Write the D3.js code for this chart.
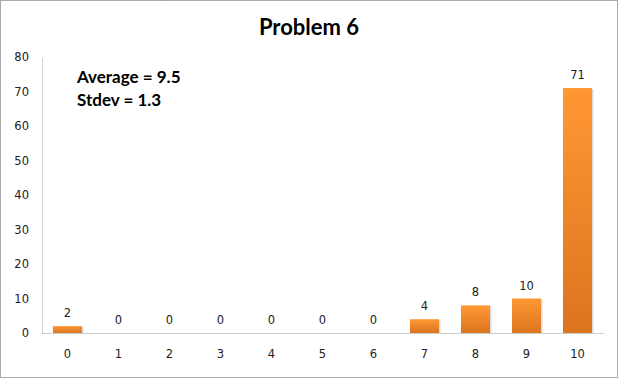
<!DOCTYPE html>
<html>
<head>
<meta charset="utf-8">
<script src="https://cdn.jsdelivr.net/npm/d3@7"></script>
<style>
  body { margin: 0; background: #fff; }
  svg { display: block; }
</style>
</head>
<body>
<div id="chart"></div>
<script>
// scores and how many students got each
var scores = ['0', '1', '2', '3', '4', '5', '6', '7', '8', '9', '10'];
var counts = [2, 0, 0, 0, 0, 0, 0, 4, 8, 10, 71];
var yTicks = [0, 10, 20, 30, 40, 50, 60, 70, 80];
var title = 'Problem 6';
var notes = ['Average = 9.5', 'Stdev = 1.3'];

var width = 618, height = 378;
var margin = {top: 57, right: 15, bottom: 45, left: 42};

var svg = d3.select('#chart').append('svg')
  .attr('width', width)
  .attr('height', height);

// outer dotted frame
svg.append('rect')
  .attr('x', 0.5).attr('y', 0.5)
  .attr('width', width - 1).attr('height', height - 1)
  .attr('fill', '#fff')
  .attr('stroke', '#555')
  .attr('stroke-dasharray', '1,1');

var grad = svg.append('defs').append('linearGradient')
  .attr('id', 'barFill')
  .attr('x1', 0).attr('y1', 0).attr('x2', 0).attr('y2', 1);
grad.append('stop').attr('offset', '0%').attr('stop-color', '#ff9833');
grad.append('stop').attr('offset', '100%').attr('stop-color', '#dc7420');

var innerW = width - margin.left - margin.right,
    innerH = height - margin.top - margin.bottom;

var g = svg.append('g')
  .attr('transform', 'translate(' + margin.left + ',' + margin.top + ')');

var x = d3.scaleBand().domain(scores).range([0, innerW]).paddingInner(0.43).paddingOuter(0.215);
var y = d3.scaleLinear().domain([0, 80]).range([innerH, 0]);

// axes
var yAxis = d3.axisLeft(y).tickValues(yTicks).tickSize(0).tickPadding(13);
var yg = g.append('g').call(yAxis);
yg.select('.domain').attr('stroke', '#aaa').attr('stroke-dasharray', '1,1');
yg.selectAll('text')
  .style('font', '11.5px "DejaVu Sans", sans-serif')
  .attr('fill', '#222');

var xAxis = d3.axisBottom(x).tickSize(0).tickPadding(17);
var xg = g.append('g').attr('transform', 'translate(0,' + innerH + ')').call(xAxis);
xg.select('.domain').attr('stroke', '#999').attr('stroke-dasharray', '1,1');
xg.selectAll('text')
  .style('font', '11.5px "DejaVu Sans", sans-serif')
  .attr('fill', '#222');

var data = scores.map(function(s, i) { return {score: s, count: counts[i]}; });

// faint shadow then bars
g.selectAll('.shadow')
  .data(data.filter(function(d) { return d.count > 0; }))
  .enter().append('rect')
  .attr('x', function(d) { return x(d.score) + 1.5; })
  .attr('y', function(d) { return y(d.count) + 1; })
  .attr('width', x.bandwidth())
  .attr('height', function(d) { return innerH - y(d.count) - 1; })
  .attr('fill', '#ddd');

g.selectAll('.bar')
  .data(data)
  .enter().append('rect')
  .attr('class', 'bar')
  .attr('x', function(d) { return x(d.score); })
  .attr('y', function(d) { return y(d.count); })
  .attr('width', x.bandwidth())
  .attr('height', function(d) { return innerH - y(d.count); })
  .attr('fill', 'url(#barFill)');

g.selectAll('.lbl')
  .data(data)
  .enter().append('text')
  .attr('x', function(d) { return x(d.score) + x.bandwidth() / 2; })
  .attr('y', function(d) { return y(d.count) - 9; })
  .attr('text-anchor', 'middle')
  .attr('fill', '#222')
  .style('font', '11.5px "DejaVu Sans", sans-serif')
  .text(function(d) { return d.count; });

svg.append('text')
  .attr('x', 309).attr('y', 35)
  .attr('text-anchor', 'middle')
  .attr('fill', '#000')
  .style('font', 'bold 22px Lato, "Open Sans", sans-serif')
  .text(title);

svg.selectAll('.note')
  .data(notes)
  .enter().append('text')
  .attr('x', 77)
  .attr('y', function(d, i) { return 83 + i * 23; })
  .attr('fill', '#000')
  .style('font', 'bold 17px Lato, "Open Sans", sans-serif')
  .text(function(d) { return d; });
</script>
</body>
</html>
